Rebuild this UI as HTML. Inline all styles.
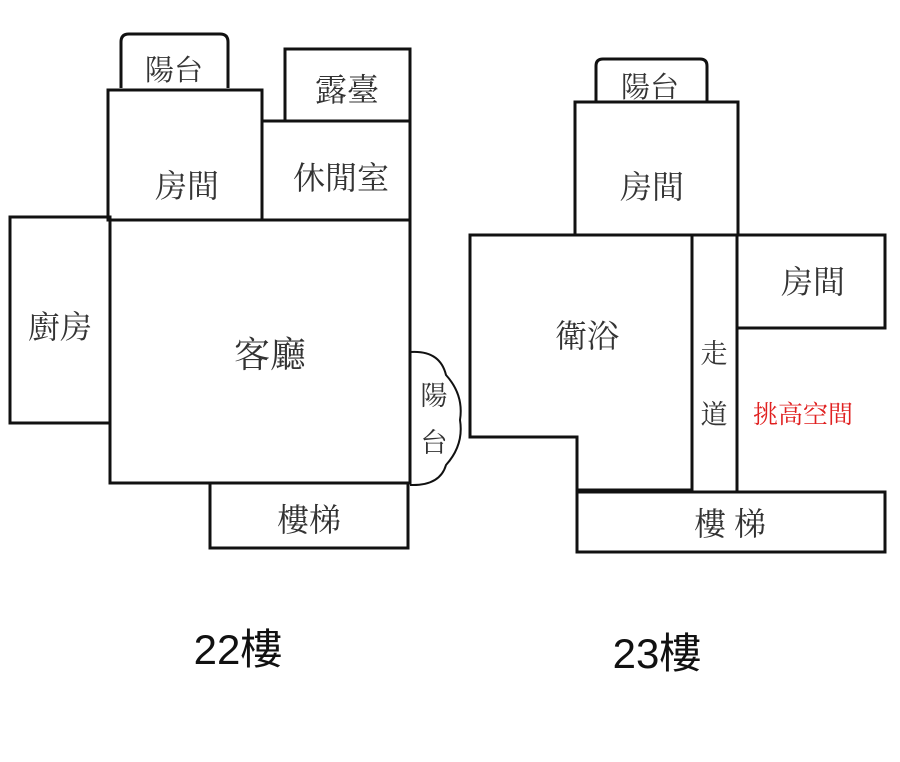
<!DOCTYPE html>
<html><head><meta charset="utf-8"><style>
html,body{margin:0;padding:0;background:#fff;width:900px;height:762px;overflow:hidden}
svg text{font-family:"Liberation Serif","Noto Serif CJK SC",serif;fill:#333}
</style></head><body>
<svg width="900" height="762" viewBox="0 0 900 762" xmlns="http://www.w3.org/2000/svg">
<g fill="none" stroke="#111" stroke-width="3">
<path d="M121 88 V42 Q121 34 129 34 H220 Q228 34 228 42 V88"/>
<rect x="108" y="90" width="154" height="130"/>
<rect x="285" y="49" width="125" height="72"/>
<path d="M262 121 H410"/>
<path d="M262 220 H410 V121"/>
<rect x="10" y="217" width="100" height="206"/>
<rect x="110" y="220" width="300" height="263"/>
<path d="M410 352 Q440 350 446 375 Q464 395 460 420 Q464 445 446 465 Q440 486 410 485" stroke-width="2"/>
<rect x="210" y="483" width="198" height="65"/>
<path d="M596 102 V66 Q596 59 603 59 H700 Q707 59 707 66 V102"/>
<rect x="575" y="102" width="163" height="133"/>
<path d="M470 235 H692 V490 H577 V437 H470 Z"/>
<rect x="692" y="235" width="45" height="257"/>
<rect x="737" y="235" width="148" height="93"/>
<rect x="577" y="492" width="308" height="60"/>
</g>
<g font-size="32" text-anchor="middle">
<text x="174" y="80" font-size="29">陽台</text>
<text x="347" y="101" font-size="32">露臺</text>
<text x="187" y="197">房間</text>
<text x="341" y="189">休閒室</text>
<text x="60" y="338">廚房</text>
<text x="270" y="367" font-size="36">客廳</text>
<text x="434" y="405" font-size="27">陽</text>
<text x="434" y="452" font-size="27">台</text>
<text x="309" y="531">樓梯</text>
<text x="650" y="97" font-size="29">陽台</text>
<text x="652" y="198">房間</text>
<text x="813" y="293">房間</text>
<text x="587" y="347">衛浴</text>
<text x="714" y="363" font-size="27">走</text>
<text x="714" y="424" font-size="27">道</text>
<text x="730" y="535">樓 梯</text>
<text x="803" y="423" font-size="25" style="fill:#e02020">挑高空間</text>
</g>
<g font-size="42" text-anchor="middle">
<text x="238" y="664" style="font-family:'Liberation Sans','Noto Sans CJK TC',sans-serif;fill:#111">22樓</text>
<text x="657" y="668" style="font-family:'Liberation Sans','Noto Sans CJK TC',sans-serif;fill:#111">23樓</text>
</g>
</svg>
</body></html>
